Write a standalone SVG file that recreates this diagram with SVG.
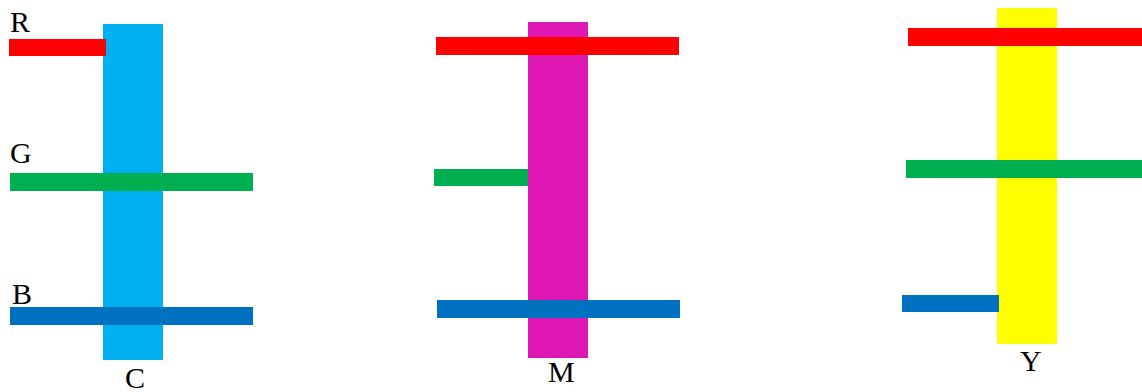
<svg xmlns="http://www.w3.org/2000/svg" width="1142" height="392" viewBox="0 0 1142 392">
<style>
.lbl{font-family:"Liberation Serif","Times New Roman",serif;font-size:30px;fill:#000}
.r{fill:#FF0000}.g{fill:#00B050}.b{fill:#0070C0}
</style>
<rect width="1142" height="392" fill="#fff"/>
<g id="panel-cyan">
<rect x="103" y="24" width="60" height="336" fill="#00B0F0"/>
<rect class="r" x="9" y="39" width="97" height="17"/>
<rect class="g" x="10" y="173" width="243" height="18"/>
<rect class="b" x="10" y="307" width="243" height="18"/>
<text class="lbl" x="10" y="32">R</text>
<text class="lbl" x="10" y="163">G</text>
<text class="lbl" x="12" y="304">B</text>
<text class="lbl" x="125" y="388">C</text>
</g>
<g id="panel-magenta">
<rect x="528" y="22" width="60" height="336" fill="#DD16B4"/>
<rect class="r" x="436" y="37" width="243" height="18"/>
<rect class="g" x="434" y="169" width="94" height="17"/>
<rect class="b" x="437" y="300" width="243" height="18"/>
<text class="lbl" x="548" y="382">M</text>
</g>
<g id="panel-yellow">
<rect x="997" y="8" width="60" height="336" fill="#FFFF00"/>
<rect class="r" x="908" y="28" width="234" height="18"/>
<rect class="g" x="906" y="160" width="236" height="18"/>
<rect class="b" x="902" y="295" width="97" height="17"/>
<text class="lbl" x="1020" y="371">Y</text>
</g>
<g id="connectors"/>
</svg>
